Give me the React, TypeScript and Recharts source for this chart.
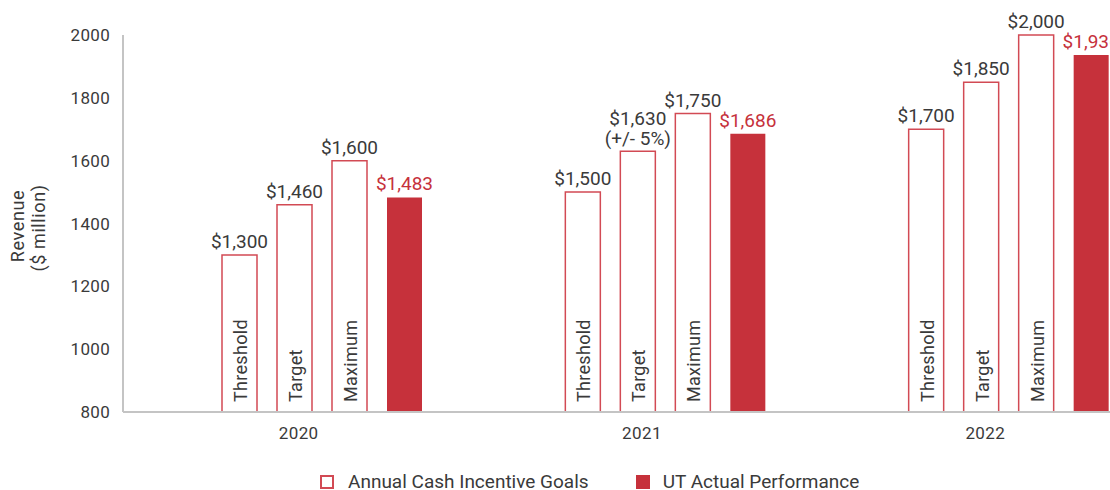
import React from 'react';
import { BarChart, Bar, XAxis, YAxis, LabelList } from 'recharts';

const years = ['2020', '2021', '2022'];
const threshold = [1300, 1500, 1700];
const target = [1460, 1630, 1850];
const maximum = [1600, 1750, 2000];
const actual = [1483, 1686, 1936];
const targetNotes = ['', '(+/- 5%)', ''];
const yTicks = [800, 1000, 1200, 1400, 1600, 1800, 2000];

const RED = '#c6313b';
const OUTLINE = '#d24a54';
const TEXT = '#3a3a3a';
const AXIS = '#c4c4c4';
const FONT = 'Roboto, sans-serif';

const data = years.map((year, i) => ({
  year,
  threshold: threshold[i],
  target: target[i],
  maximum: maximum[i],
  actual: actual[i],
  note: targetNotes[i],
}));

const money = (v: number) => '$' + v.toLocaleString('en-US');

// value above the bar, optional note line under it
const topLabel = (color: string, notes?: string[]) => (props: any) => {
  const { x, y, width, value, index } = props;
  const cx = x + width / 2;
  const note = notes ? notes[index] : '';
  return (
    <g>
      <text x={cx} y={note ? y - 26 : y - 7} textAnchor="middle" fill={color} fontSize={19} fontFamily={FONT}>
        {money(value)}
      </text>
      {note && (
        <text x={cx} y={y - 6} textAnchor="middle" fill={color} fontSize={19} fontFamily={FONT}>
          {note}
        </text>
      )}
    </g>
  );
};

// rotated name inside the bar, reading bottom to top
const insideLabel = (name: string) => (props: any) => {
  const { x, y, width, height } = props;
  const cx = x + width / 2 + 1;
  const by = y + height - 10;
  return (
    <text
      x={cx}
      y={by}
      transform={`rotate(-90, ${cx}, ${by})`}
      textAnchor="start"
      dominantBaseline="central"
      fill={TEXT}
      fontSize={18}
      letterSpacing={0.3}
      fontFamily={FONT}
    >
      {name}
    </text>
  );
};

const YLabel = () => (
  <g>
    <text x={17} y={226} transform="rotate(-90, 17, 226)" textAnchor="middle" dominantBaseline="central" fill={TEXT} fontSize={18} letterSpacing={0.6} fontFamily={FONT}>
      Revenue
    </text>
    <text x={38} y={228} transform="rotate(-90, 38, 228)" textAnchor="middle" dominantBaseline="central" fill={TEXT} fontSize={18} letterSpacing={0.6} fontFamily={FONT}>
      ($ million)
    </text>
  </g>
);

export default function App() {
  return (
    <div style={{ position: 'absolute', top: 0, left: 0, width: 1110, height: 490, overflow: 'hidden', background: '#fff', fontFamily: FONT }}>
      <BarChart
        width={1180}
        height={490}
        data={data}
        margin={{ top: 35, right: 0, left: 63, bottom: 48 }}
        barSize={35}
        barGap={20}
      >
        <XAxis
          dataKey="year"
          height={30}
          padding={{ left: 27, right: 0 }}
          axisLine={{ stroke: AXIS, strokeWidth: 2 }}
          tickLine={false}
          tickMargin={9}
          tick={{ fill: TEXT, fontSize: 17, fontFamily: FONT, dx: -23, letterSpacing: 0.4 }}
        />
        <YAxis
          width={60}
          domain={[800, 2000]}
          ticks={yTicks}
          interval={0}
          axisLine={{ stroke: AXIS, strokeWidth: 2 }}
          tickLine={false}
          tick={{ fill: TEXT, fontSize: 17, fontFamily: FONT, dx: -5, letterSpacing: 0.3 }}
          label={{ content: () => <YLabel /> }}
        />
        <Bar dataKey="threshold" fill="#fff" stroke={OUTLINE} strokeWidth={1.5} isAnimationActive={false}>
          <LabelList dataKey="threshold" content={topLabel(TEXT)} />
          <LabelList dataKey="threshold" content={insideLabel('Threshold')} />
        </Bar>
        <Bar dataKey="target" fill="#fff" stroke={OUTLINE} strokeWidth={1.5} isAnimationActive={false}>
          <LabelList dataKey="target" content={topLabel(TEXT, targetNotes)} />
          <LabelList dataKey="target" content={insideLabel('Target')} />
        </Bar>
        <Bar dataKey="maximum" fill="#fff" stroke={OUTLINE} strokeWidth={1.5} isAnimationActive={false}>
          <LabelList dataKey="maximum" content={topLabel(TEXT)} />
          <LabelList dataKey="maximum" content={insideLabel('Maximum')} />
        </Bar>
        <Bar dataKey="actual" fill={RED} isAnimationActive={false}>
          <LabelList dataKey="actual" content={topLabel(RED)} />
        </Bar>
      </BarChart>
      <div style={{ position: 'absolute', top: 472, left: 320, display: 'flex', alignItems: 'center', fontSize: 19, lineHeight: '20px', color: TEXT, whiteSpace: 'nowrap' }}>
        <span style={{ width: 10, height: 10, border: `2px solid ${OUTLINE}`, display: 'inline-block', marginRight: 14 }} />
        <span>Annual Cash Incentive Goals</span>
        <span style={{ width: 14, height: 14, background: RED, display: 'inline-block', marginLeft: 47, marginRight: 13 }} />
        <span>UT Actual Performance</span>
      </div>
    </div>
  );
}
